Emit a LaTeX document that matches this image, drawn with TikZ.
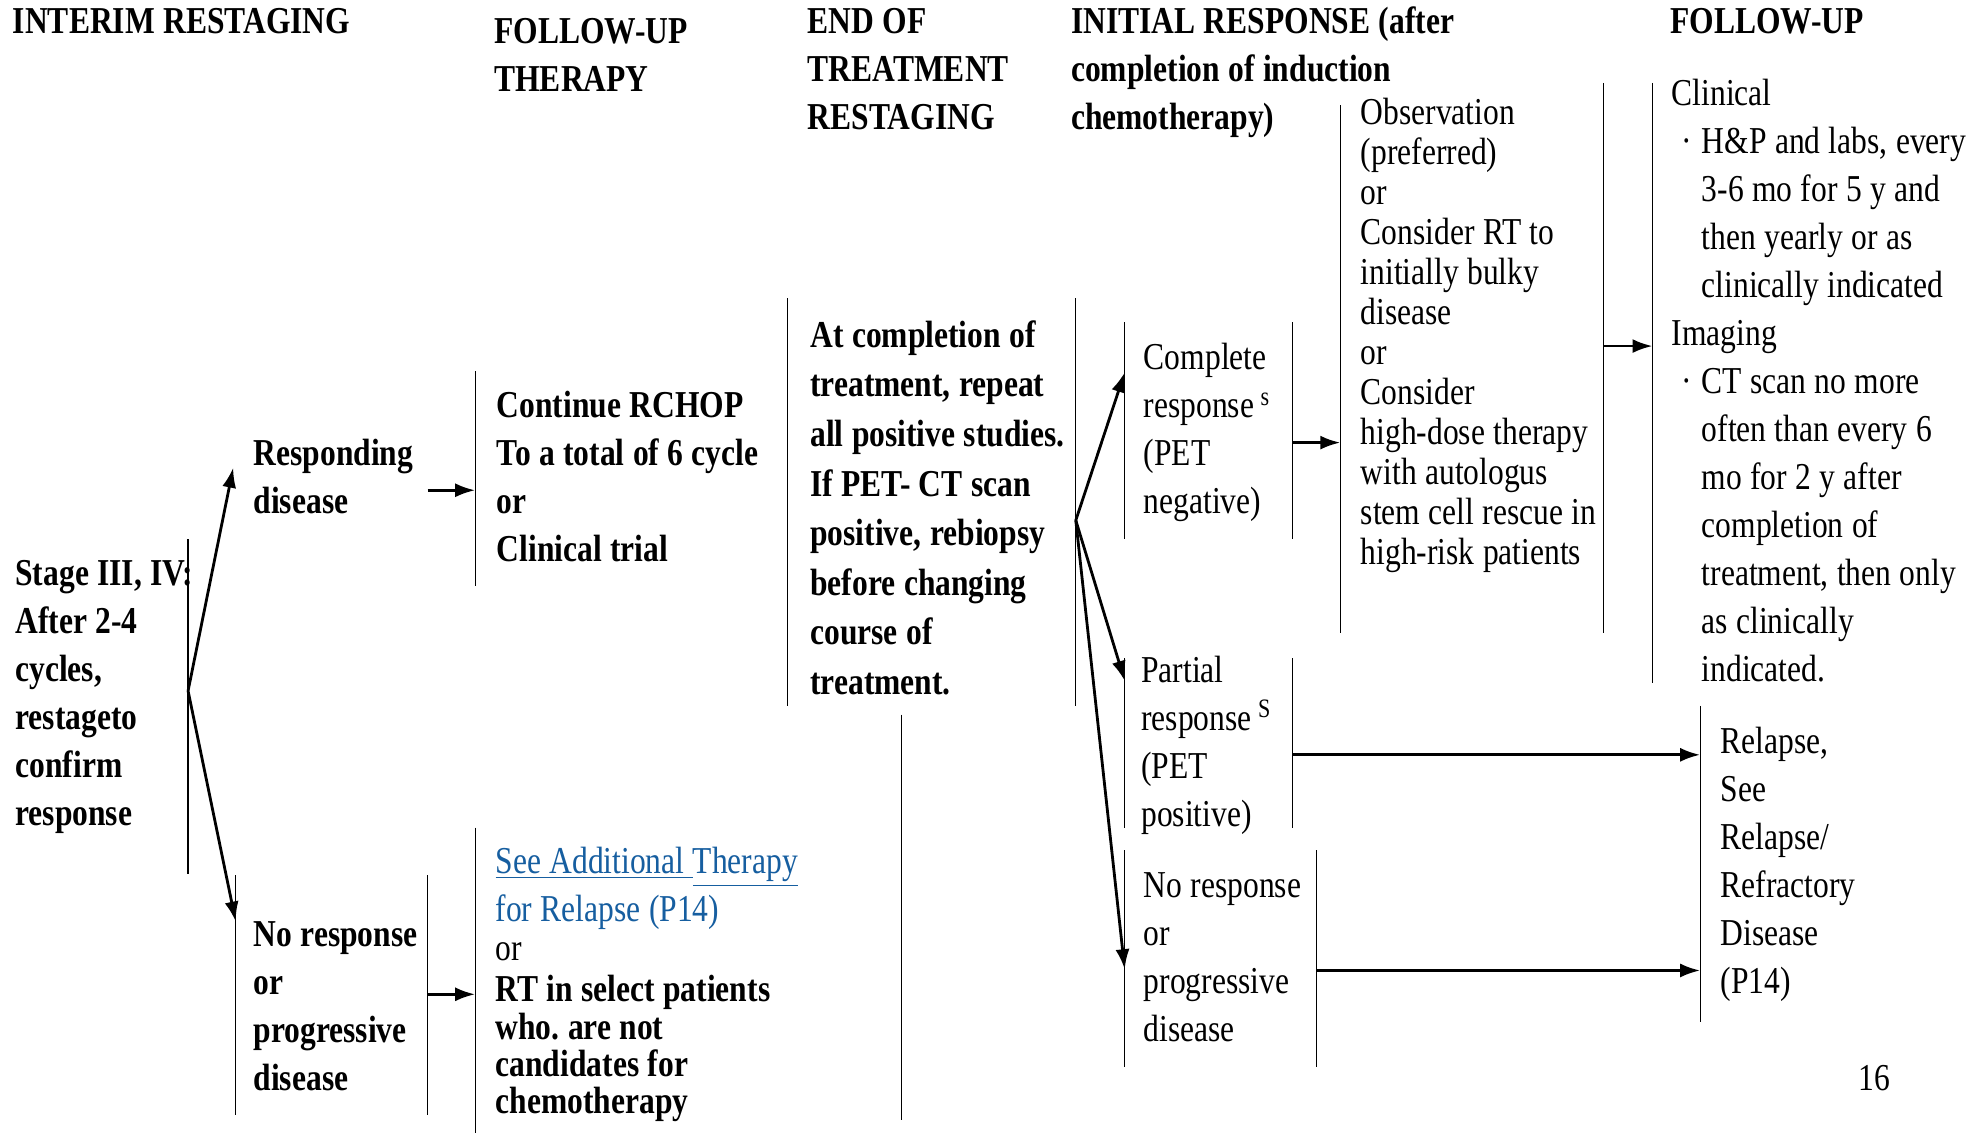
\documentclass[tikz,border=0pt]{standalone}
\usepackage{fontspec}
\setmainfont[FakeStretch=0.83]{Liberation Serif}
\usetikzlibrary{arrows.meta}
\definecolor{linkblue}{RGB}{22,94,160}
\newcommand\fuind{\hspace*{15pt}}
\newcommand\fubul{\hspace*{15pt}\llap{\textperiodcentered\hspace{5pt}}}
\newcommand\tightsp{\spaceskip=4.2pt plus 1pt minus 1pt\xspaceskip=4.2pt\relax}
\frenchspacing

\begin{document}
\begin{tikzpicture}[x=0.6269pt,y=-0.6269pt]
  \tikzset{
    bar/.style={line width=0.7pt},
    arr/.style={line width=1.4pt,-{Latex[length=10pt,width=7pt]}},
    txt/.style={anchor=base west,inner sep=0pt,text width=8cm,align=left,
      font=\fontsize{19}{24}\selectfont,execute at begin node=\tightsp},
    btxt/.style={txt,font=\fontsize{19}{24}\selectfont\bfseries},
  }
  \fill[white] (0,0) rectangle (1568,904);
  \useasboundingbox (0,0) rectangle (1568,904);

  % column headings
  \node[btxt] (hInterim) at (10,27) {INTERIM RESTAGING};
  \node[btxt] (hTherapy) at (394,35) {FOLLOW-UP\\THERAPY};
  \node[btxt] (hEnd) at (644,27) {END OF\\TREATMENT\\RESTAGING};
  \node[btxt] (hInitial) at (854,27) {INITIAL RESPONSE (after\\completion of induction\\chemotherapy)};
  \node[btxt] (hFollow) at (1332,27) {FOLLOW-UP};

  % interim restaging
  \node[btxt] (stage) at (12,467) {Stage III, IV:\\After 2-4\\cycles,\\restageto\\confirm\\response};
  \node[btxt] (resp) at (202,371) {Responding\\disease};
  \node[btxt] (nrLeft) at (202,755) {No response\\or\\progressive\\disease};
  \draw[bar] (150,430) -- (150,697);
  \draw[bar] (188,698) -- (188,889); \draw[bar] (341,698) -- (341,889);

  % follow-up therapy
  \node[btxt] (rchop) at (396,333) {Continue RCHOP\\To a total of 6 cycle\\or\\Clinical trial};
  \node[txt,text=linkblue] (link) at (395,697) {\underline{See Additional\ }\underline{Therapy}\\for Relapse (P14)};
  \node[txt] (orLink) at (395,766) {or};
  \node[btxt,font=\fontsize{19}{18.6}\selectfont\bfseries] (rtSel) at (395,799) {RT in select patients\\who. are not\\candidates for\\chemotherapy};
  \draw[bar] (379,296) -- (379,467);
  \draw[bar] (379,660) -- (379,904);

  % end of treatment
  \node[btxt,font=\fontsize{19}{24.8}\selectfont\bfseries] (eot) at (646,277) {At completion of\\treatment, repeat\\all positive studies.\\If PET- CT scan\\positive, rebiopsy\\before changing\\course of\\treatment.};
  \draw[bar] (628,238) -- (628,563); \draw[bar] (858,238) -- (858,563);
  \draw[bar] (719,570) -- (719,893);

  % initial response
  \node[txt] (cr) at (912,295) {Complete\\response\,\textsuperscript{s}\\(PET\\negative)};
  \node[txt] (pr) at (910,544) {Partial\\response\,\textsuperscript{S}\\(PET\\positive)};
  \node[txt] (nrRight) at (912,716) {No response\\or\\progressive\\disease};
  \draw[bar] (897,257) -- (897,430); \draw[bar] (1031,257) -- (1031,430);
  \draw[bar] (897,525) -- (897,660); \draw[bar] (1031,525) -- (1031,660);
  \draw[bar] (897,678) -- (897,851); \draw[bar] (1050,678) -- (1050,851);

  \node[txt,font=\fontsize{19}{20}\selectfont] (obs) at (1085,99) {Observation\\(preferred)\\or\\Consider RT to\\initially bulky\\disease\\or\\Consider\\high-dose therapy\\with autologus\\stem cell rescue in\\high-risk patients};
  \draw[bar] (1069,84) -- (1069,505); \draw[bar] (1279,66) -- (1279,505);

  % follow-up
  \node[txt] (fu) at (1333,84) {Clinical\\\fubul H\&P and labs, every\\\fuind 3-6 mo for 5 y and\\\fuind then yearly or as\\\fuind clinically indicated\\Imaging\\\fubul CT scan no more\\\fuind often than every 6\\\fuind mo for 2 y after\\\fuind completion of\\\fuind treatment, then only\\\fuind as clinically\\\fuind indicated.};
  \draw[bar] (1318,66) -- (1318,545);
  \node[txt] (rel) at (1372,601) {Relapse,\\See\\Relapse/\\Refractory\\Disease\\(P14)};
  \draw[bar] (1356,563) -- (1356,815);
  \node[txt] (pageNo) at (1482,870) {16};

  % branch points and arrow ends
  \coordinate (stageFork) at (150,551);
  \coordinate (respTip) at (186,373);
  \coordinate (nrTip) at (188,735);
  \coordinate (respOut) at (341,391); \coordinate (rchopIn) at (379,391);
  \coordinate (nrOut) at (341,793); \coordinate (linkIn) at (379,793);
  \coordinate (eotFork) at (858,415);
  \coordinate (crTip) at (897,297); \coordinate (prTip) at (897,543); \coordinate (nrrTip) at (897,773);
  \coordinate (crOut) at (1031,353); \coordinate (obsIn) at (1069,353);
  \coordinate (obsOut) at (1279,276); \coordinate (fuIn) at (1318,276);
  \coordinate (prOut) at (1031,602); \coordinate (relInA) at (1356,602);
  \coordinate (nrrOut) at (1050,774); \coordinate (relInB) at (1356,774);

  \draw[arr] (stageFork) -- (respTip);
  \draw[arr] (stageFork) -- (nrTip);
  \draw[arr] (respOut) -- (rchopIn);
  \draw[arr] (nrOut) -- (linkIn);
  \draw[arr] (eotFork) -- (crTip);
  \draw[arr] (eotFork) -- (prTip);
  \draw[arr] (eotFork) -- (nrrTip);
  \draw[arr] (crOut) -- (obsIn);
  \draw[arr] (obsOut) -- (fuIn);
  \draw[arr] (prOut) -- (relInA);
  \draw[arr] (nrrOut) -- (relInB);
\end{tikzpicture}
\end{document}
